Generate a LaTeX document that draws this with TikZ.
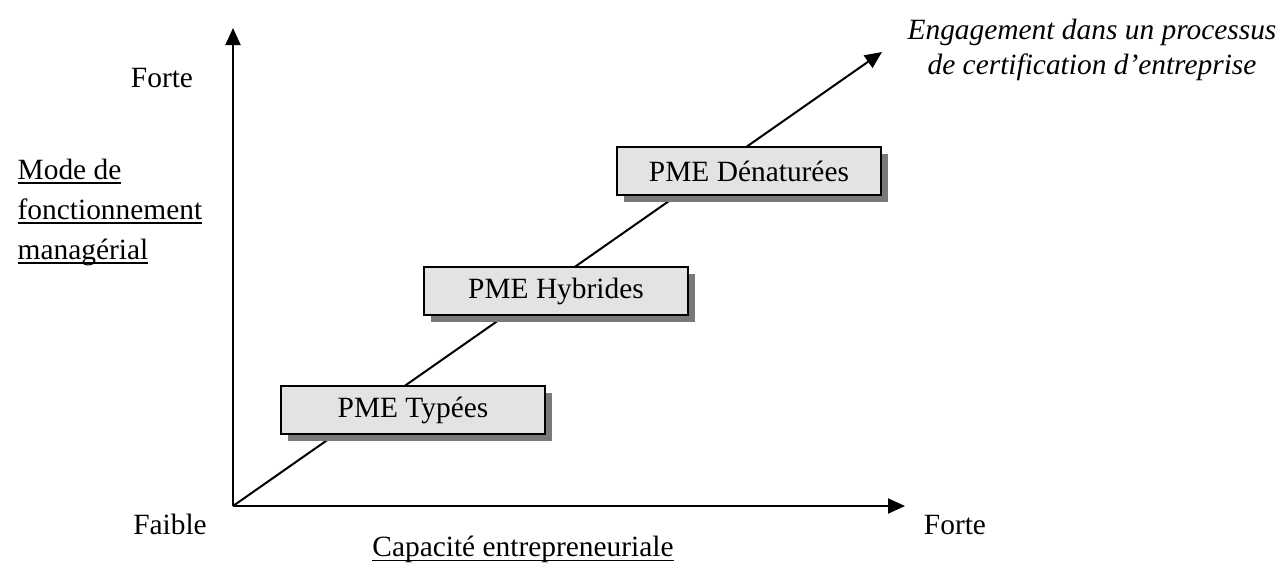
\documentclass[tikz,border=0pt]{standalone}
\usepackage{fontspec}
\setmainfont{Liberation Serif}
\usetikzlibrary{arrows.meta,shadows}
\newcommand{\ulab}[1]{\leavevmode\setbox0\hbox{#1}\rlap{\copy0}\rule[-2.6pt]{\wd0}{0.9pt}}

\begin{document}
\begin{tikzpicture}[
    x = 0.5pt, y = -0.5pt, % one unit per pixel of the reference
    > = {Triangle[length=8.5pt,width=7.5pt]}, % arrow head style
    line width = 1pt,
    font = \fontsize{14.7}{20}\selectfont
    ]

    \tikzset{pme/.style={
    draw = black,
    fill = gray!22,
    minimum width = 132pt,
    minimum height = 24pt,
    inner sep = 0pt,
    drop shadow = {shadow xshift=3.5pt, shadow yshift=-3.5pt, fill=gray!95!black, opacity=1}
    }}

    \useasboundingbox (0,0) rectangle (1284,564);

    % axes
    \coordinate (o) at (233,506);
    \coordinate (ytop) at (233,28);
    \coordinate (xend) at (905,506);
    \coordinate (dend) at (882,52);
    \draw[->] (o) -- (ytop);
    \draw[->] (o) -- (xend);
    \draw[->] (o) -- (dend);

    % boxes along the diagonal
    \node[pme] (typ) at (413,410) {PME Typées};
    \node[pme] (hyb) at (556,291) {PME Hybrides};
    \node[pme] (den) at (749,171) {PME Dénaturées};

    % labels
    \node (yhigh) at (162,78) {Forte};
    \node (ylow) at (170,524) {Faible};
    \node (xhigh) at (955,525) {Forte};
    \node[anchor=west, align=left] (ytitle) at (10,212)
        {\ulab{Mode de}\\ \ulab{fonctionnement}\\ \ulab{managérial}};
    \node (xtitle) at (523,549) {\ulab{Capacité entrepreneuriale}};
    \node[align=center, font=\fontsize{14.7}{17.5}\selectfont\itshape] (dtitle) at (1092,50)
        {Engagement dans un processus\\ de certification d’entreprise};

\end{tikzpicture}
\end{document}
